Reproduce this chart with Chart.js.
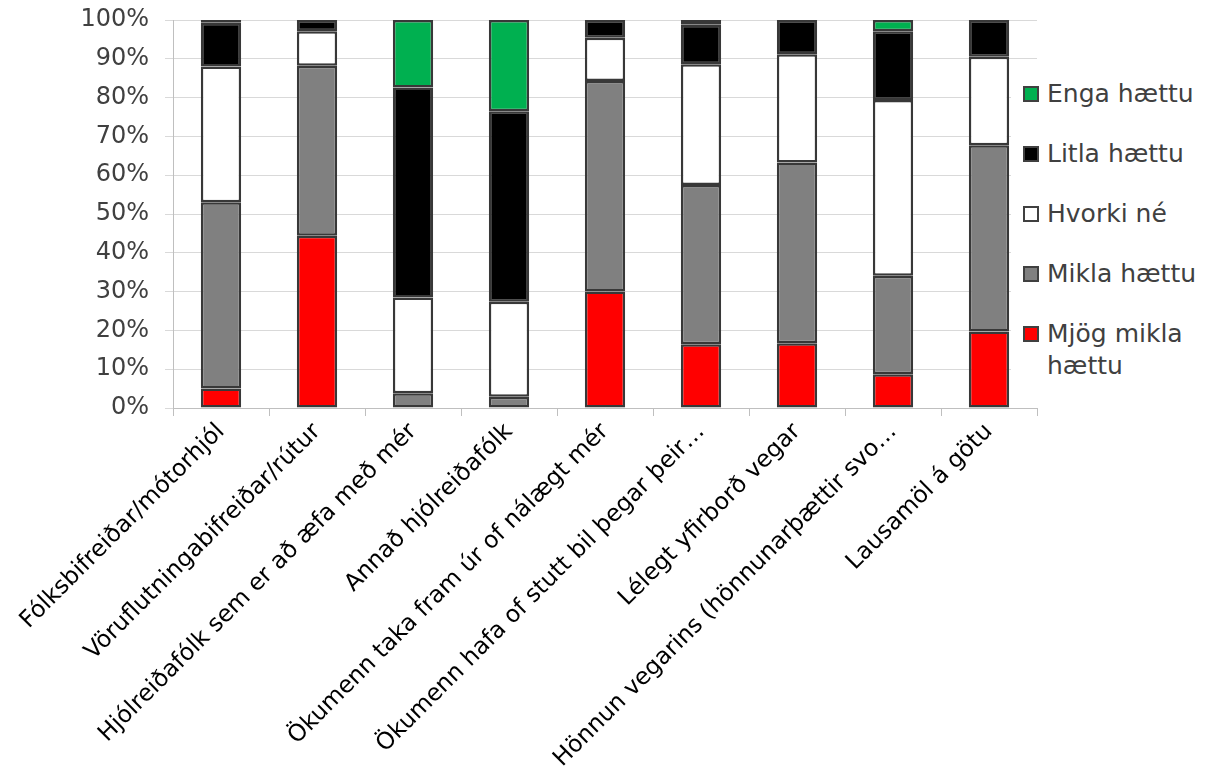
<!DOCTYPE html>
<html lang="is">
<head>
<meta charset="utf-8">
<title>Hætta í umferð</title>
<script src="https://cdn.jsdelivr.net/npm/chart.js@4.4.1/dist/chart.umd.min.js"></script>
<style>
  html, body { margin: 0; padding: 0; background: #fff; }
  #wrap { position: relative; width: 1211px; height: 767px; overflow: hidden; }
  #chart { position: absolute; left: 0; top: 0; }
  #legend {
    position: absolute; left: 1011px; top: 78px; width: 200px; height: 322px;
    background: #fff; font-family: "DejaVu Sans", Verdana, sans-serif;
    font-size: 25px; color: #404040;
  }
  .item { position: absolute; left: 12px; display: flex; align-items: flex-start; }
  .box { width: 12px; height: 12px; border: 2px solid #404040; margin-top: 8px; flex: none; }
  .txt { margin-left: 8px; line-height: 32px; white-space: pre; }
</style>
</head>
<body>
<div id="wrap">
  <canvas id="chart" width="1211" height="767"></canvas>
  <div id="legend"></div>
</div>
<script>
// Flokkar (x-ás)
const categories = [
  "Fólksbifreiðar/mótorhjól",
  "Vöruflutningabifreiðar/rútur",
  "Hjólreiðafólk sem er að æfa með mér",
  "Annað hjólreiðafólk",
  "Ökumenn taka fram úr of nálægt mér",
  "Ökumenn hafa of stutt bil þegar þeir…",
  "Lélegt yfirborð vegar",
  "Hönnun vegarins (hönnunarþættir svo…",
  "Lausamöl á götu"
];

// Hlutfall svara (%) eftir svarmöguleika
const mjogMiklaHaettu = [5.0, 44.4, 0, 0, 30.0, 16.4, 16.7, 8.7, 19.7];
const miklaHaettu     = [48.0, 43.8, 3.8, 2.9, 54.3, 41.1, 46.6, 25.4, 48.0];
const hvorkiNe        = [35.0, 8.9, 24.7, 24.5, 11.1, 31.1, 27.9, 45.3, 22.8];
const litlaHaettu     = [11.3, 2.9, 54.1, 49.1, 4.6, 10.2, 8.8, 17.7, 9.5];
const engaHaettu      = [0.7, 0, 17.4, 23.5, 0, 1.2, 0, 2.9, 0];

const seriesNames = ["Mjög mikla\nhættu", "Mikla hættu", "Hvorki né", "Litla hættu", "Enga hættu"];
const seriesColors = ["#ff0000", "#808080", "#ffffff", "#000000", "#00b050"];
const seriesValues = [mjogMiklaHaettu, miklaHaettu, hvorkiNe, litlaHaettu, engaHaettu];

// y-ás: 0% til 100%
const yTicks = [0, 10, 20, 30, 40, 50, 60, 70, 80, 90, 100];

const FONT = '"DejaVu Sans", Verdana, sans-serif';

const datasets = seriesValues.map((vals, i) => ({
  label: seriesNames[i].replace("\n", " "),
  data: vals,
  backgroundColor: seriesColors[i],
  borderColor: "#383838",
  borderWidth: 2.5,
  borderSkipped: false,
  inflateAmount: 0,
  barPercentage: 0.42,
  categoryPercentage: 1.0
}));

const chart = new Chart(document.getElementById("chart"), {
  type: "bar",
  data: { labels: categories, datasets },
  options: {
    responsive: false,
    animation: false,
    devicePixelRatio: 1,
    layout: { padding: { top: 20, right: 174, bottom: 0, left: 0 } },
    plugins: { legend: { display: false }, tooltip: { enabled: false } },
    scales: {
      x: {
        stacked: true,
        offset: true,
        grid: {
          offset: true,
          drawOnChartArea: false,
          drawTicks: true,
          tickLength: 8,
          color: "#bfbfbf"
        },
        border: { color: "#bfbfbf", width: 1 },
        ticks: {
          autoSkip: false,
          maxRotation: 45,
          minRotation: 45,
          color: "#000000",
          font: { family: FONT, size: 23.5 },
          padding: 2
        },
        afterFit: (s) => { s.height = 359; }
      },
      y: {
        stacked: true,
        min: 0,
        max: 100,
        afterBuildTicks: (s) => { s.ticks = yTicks.map(v => ({ value: v })); },
        grid: { color: "#d9d9d9", tickLength: 8, drawTicks: true },
        border: { color: "#bfbfbf", width: 1 },
        ticks: {
          color: "#404040",
          font: { family: FONT, size: 24 },
          padding: 16,
          callback: (v) => v + "%"
        },
        afterFit: (s) => {
          s.width = 173;
          s.paddingTop = 0;
          s.paddingBottom = 0;
        }
      }
    }
  }
});

// Skýringar, í öfugri röð (efsti flokkur efst)
const legend = document.getElementById("legend");
for (let k = 0; k < seriesNames.length; k++) {
  const i = seriesNames.length - 1 - k;
  const item = document.createElement("div");
  item.className = "item";
  item.style.top = (k * 60) + "px";
  const box = document.createElement("div");
  box.className = "box";
  box.style.background = seriesColors[i];
  const txt = document.createElement("div");
  txt.className = "txt";
  txt.textContent = seriesNames[i];
  item.appendChild(box);
  item.appendChild(txt);
  legend.appendChild(item);
}
</script>
</body>
</html>
